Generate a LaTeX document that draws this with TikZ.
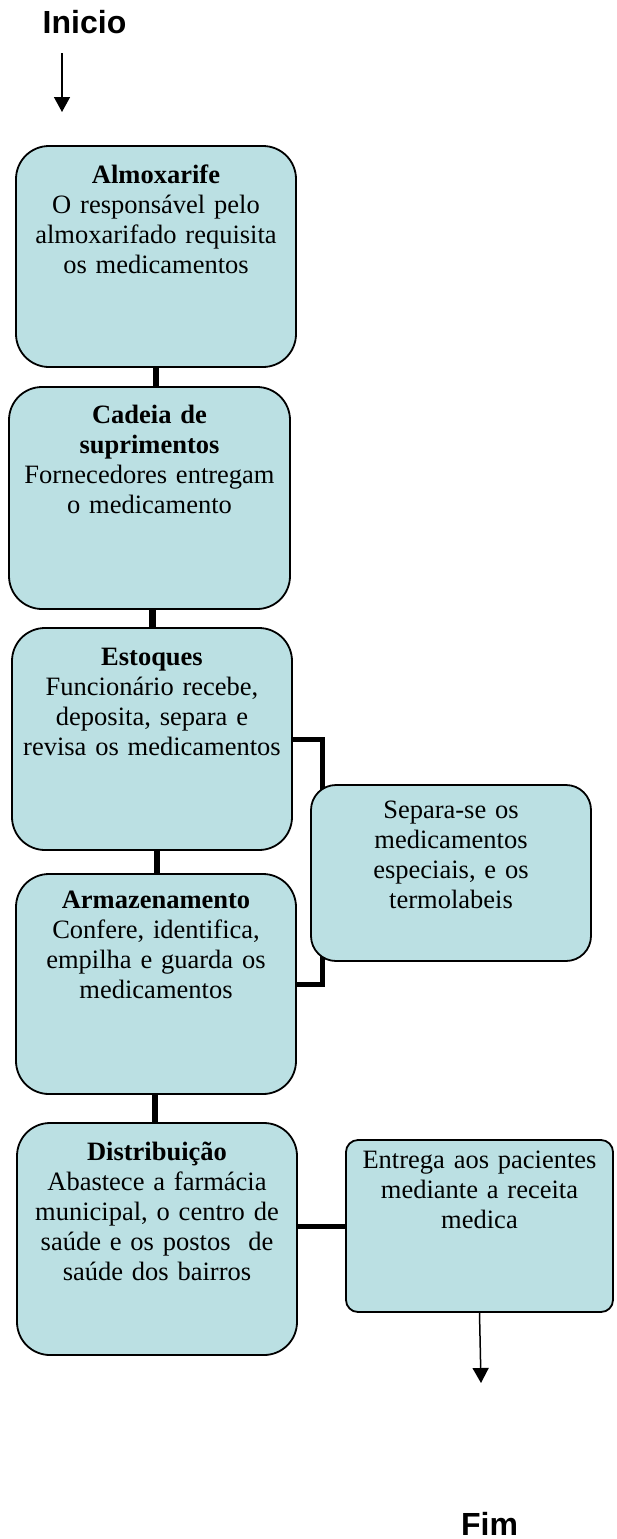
\documentclass[tikz,border=0pt]{standalone}
\usepackage{fontspec}
\setmainfont{Liberation Serif}
\newfontfamily\labelsans{Liberation Sans}
\usetikzlibrary{arrows.meta}
\definecolor{boxfill}{RGB}{187,224,227}
\begin{document}
\begin{tikzpicture}[x=1pt,y=-1pt,
  box/.style={draw, line width=1.8pt, fill=boxfill, rounded corners=33pt, inner sep=0pt, minimum width=280pt},
  txt/.style={text width=272pt, align=center, font=\fontsize{26.5}{30}\selectfont, inner sep=0pt, anchor=base},
  conn/.style={line width=6.5pt},
  conntwo/.style={line width=5pt},
  arr/.style={line width=1.5pt, -{Triangle[length=15pt,width=16pt]}},
  title/.style={font=\labelsans\bfseries\fontsize{32}{36}\selectfont, inner sep=0pt, anchor=base}]
\useasboundingbox (0,0) rectangle (616,1539);

% start
\node[title] (ini) at (84.5,33) {Inicio};
\coordinate (a1s) at (62,53);
\coordinate (a1e) at (62,112);
\draw[arr] (a1s) -- (a1e);

% main boxes
\node[box, minimum height=221pt] (b1) at (156,256.5) {};
\node[box, minimum height=222pt, minimum width=281pt] (b2) at (149.5,498) {};
\node[box, minimum height=222pt] (b3) at (152,739) {};
\node[box, minimum height=220pt] (b4) at (156,984) {};
\node[box, minimum height=232pt] (b5) at (157,1239) {};

% connectors between main boxes
\draw[conn] (b1.south) -- (b1.south |- b2.north);
\draw[conn] ([xshift=3pt]b2.south) -- ([xshift=3pt]b2.south |- b3.north);
\draw[conn] ([xshift=5pt]b3.south) -- ([xshift=5pt]b3.south |- b4.north);
\draw[conn] ([xshift=-1pt]b4.south) -- ([xshift=-1pt]b4.south |- b5.north);

% bracket behind the side box
\draw[conntwo, line join=miter] (b3.east) -- ++(30,0) |- (b4.east);

% side boxes
\node[box, rounded corners=25pt, minimum height=176pt] (sep) at (451,873) {};
\node[box, rounded corners=12pt, minimum width=267pt, minimum height=172pt] (ent) at (479.5,1226) {};
\draw[conntwo] (ent.west) -- (ent.west -| b5.east);

% texts
\node[txt] (t1) at (156,183) {\textbf{Almoxarife}\\O responsável pelo\\almoxarifado requisita\\os medicamentos};
\node[txt] (t2) at (149.5,423) {\textbf{Cadeia de}\\\textbf{suprimentos}\\Fornecedores entregam\\o medicamento};
\node[txt] (t3) at (152,665) {\textbf{Estoques}\\Funcionário recebe,\\deposita, separa e\\revisa os medicamentos};
\node[txt] (t4) at (156,908) {\textbf{Armazenamento}\\Confere, identifica,\\empilha e guarda os\\medicamentos};
\node[txt] (t5) at (157,1160) {\textbf{Distribuição}\\Abastece a farmácia\\municipal, o centro de\\saúde e os postos~ de\\saúde dos bairros};
\node[txt] (t6) at (451,818) {Separa-se os\\medicamentos\\especiais, e os\\termolabeis};
\node[txt, text width=262pt] (t7) at (479.5,1168) {Entrega aos pacientes\\mediante a receita\\medica};

% end
\coordinate (a2e) at (481,1383);
\draw[arr] (ent.south) -- (a2e);
\node[title] (fim) at (489.5,1535) {Fim};
\end{tikzpicture}
\end{document}
